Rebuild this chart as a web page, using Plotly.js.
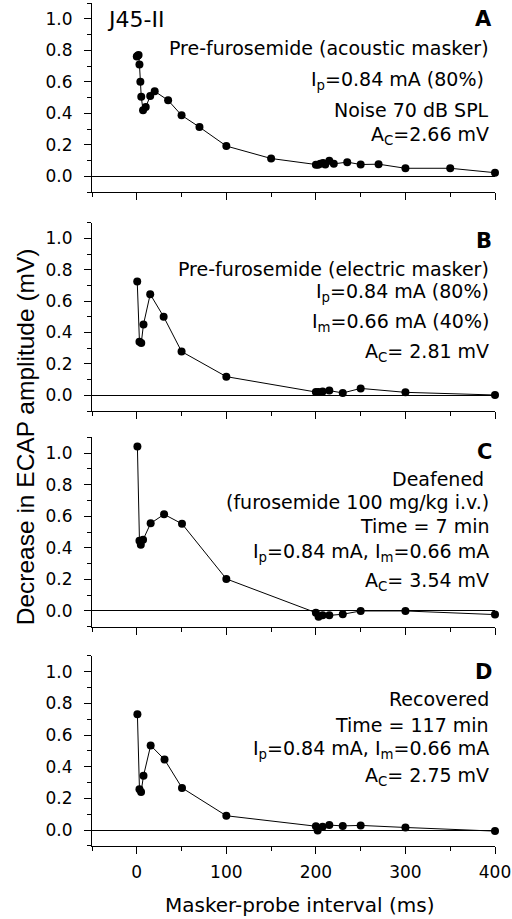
<!DOCTYPE html>
<html>
<head>
<meta charset="utf-8">
<script src="https://cdn.plot.ly/plotly-3.0.1.min.js"></script>
<style>html,body{margin:0;padding:0;background:#fff;}#chart{width:512px;height:919px;}</style>
</head>
<body>
<div id="chart"></div>
<script>
// Panel A: pre-furosemide, acoustic masker
const xA = [0, 1, 2, 3, 4, 5, 7, 10, 15, 20, 35, 50, 70, 100, 150, 200, 202.5, 205, 208, 210.5, 215, 220, 235, 250, 270, 300, 350, 400];
const yA = [0.76, 0.765, 0.77, 0.71, 0.60, 0.505, 0.42, 0.44, 0.51, 0.54, 0.483, 0.388, 0.313, 0.193, 0.114, 0.074, 0.074, 0.08, 0.085, 0.076, 0.099, 0.08, 0.091, 0.076, 0.078, 0.052, 0.052, 0.024];
// Panel B: pre-furosemide, electric masker
const xB = [0.5, 3, 5, 7.5, 15, 30, 50, 100, 200, 203, 207.5, 215, 230, 250, 300, 400];
const yB = [0.725, 0.341, 0.333, 0.452, 0.644, 0.501, 0.279, 0.119, 0.021, 0.021, 0.025, 0.03, 0.015, 0.044, 0.019, 0.002];
// Panel C: deafened
const xC = [0.7, 3, 4.5, 7, 15.5, 30.5, 50.5, 100, 200, 203, 207.5, 215, 230, 250, 300, 400];
const yC = [1.042, 0.445, 0.42, 0.451, 0.555, 0.612, 0.552, 0.203, -0.011, -0.036, -0.028, -0.028, -0.021, 0.0, 0.0, -0.023];
// Panel D: recovered
const xD = [0.7, 3, 4.8, 7.5, 15.5, 31, 50.5, 100, 200, 202, 207.5, 215, 230, 250, 300, 400];
const yD = [0.732, 0.259, 0.241, 0.343, 0.535, 0.446, 0.267, 0.091, 0.025, -0.002, 0.021, 0.032, 0.027, 0.03, 0.017, -0.006];

const xTickVals = [0, 100, 200, 300, 400];
const xTickText = ['0', '100', '200', '300', '400'];
const yTickVals = [0, 0.2, 0.4, 0.6, 0.8, 1.0];
const yTickText = ['0.0', '0.2', '0.4', '0.6', '0.8', '1.0'];

const FONT = 'DejaVu Sans, sans-serif';
const FONT_NARROW = 'Liberation Sans, Arial, sans-serif';
const series = [[xA, yA], [xB, yB], [xC, yC], [xD, yD]];
const traces = series.map((s, i) => ({
  x: s[0], y: s[1],
  xaxis: i === 0 ? 'x' : 'x' + (i + 1),
  yaxis: i === 0 ? 'y' : 'y' + (i + 1),
  type: 'scatter', mode: 'lines+markers',
  line: {color: '#000', width: 1},
  marker: {color: '#000', size: 8},
  cliponaxis: false,
  showlegend: false
}));

const domains = [[0.7755, 1.0], [0.516, 0.7394], [0.2601, 0.4848], [0, 0.2254]];
const layout = {
  width: 512, height: 919,
  margin: {l: 92, r: 17, t: 3, b: 73},
  paper_bgcolor: '#fff', plot_bgcolor: '#fff',
  font: {family: FONT, size: 17, color: '#000'},
  showlegend: false,
  annotations: []
};
for (let i = 0; i < 4; i++) {
  const xs = i === 0 ? '' : String(i + 1);
  layout['xaxis' + xs] = {
    domain: [0, 1], anchor: 'y' + xs, range: [-50, 400],
    showline: true, linecolor: '#000', linewidth: 1, mirror: false,
    showgrid: false, zeroline: false,
    ticks: 'outside', ticklen: 7, tickwidth: 1, tickcolor: '#000',
    tickvals: xTickVals, ticktext: xTickText,
    showticklabels: i === 3, ticklabelstandoff: 4,
    minor: {tickvals: [-50, 50, 150, 250, 350], ticks: 'outside', ticklen: 4, tickcolor: '#000', tickwidth: 1},
    tickfont: {size: 17, family: FONT}
  };
  layout['yaxis' + xs] = {
    domain: domains[i], anchor: 'x' + xs, range: [-0.1, 1.1],
    showline: true, linecolor: '#000', linewidth: 1,
    showgrid: false, zeroline: true, zerolinecolor: '#000', zerolinewidth: 1,
    ticks: 'outside', ticklen: 7, tickwidth: 1, tickcolor: '#000',
    tickvals: yTickVals, ticktext: yTickText, ticklabelstandoff: 8,
    minor: {tickvals: [-0.1, 0.1, 0.3, 0.5, 0.7, 0.9, 1.1], ticks: 'outside', ticklen: 4, tickcolor: '#000', tickwidth: 1},
    tickfont: {size: 17, family: FONT}
  };
}

const TS = 19;
function ann(panel, x, y, text, opts) {
  const xs = panel === 0 ? '' : String(panel + 1);
  return Object.assign({
    xref: 'x' + xs, yref: 'y' + xs, x: x, y: y, text: text,
    showarrow: false, xanchor: 'right', yanchor: 'middle',
    font: {family: FONT, size: TS, color: '#000'}
  }, opts || {});
}
const BIG = {family: FONT, size: 21, color: '#000'};
const A = layout.annotations;
A.push(ann(0, -36, 0.997, 'J45-II', {xanchor: 'left', font: {family: FONT, size: 22, color: '#000'}}));
A.push(ann(0, 399, 0.997, '<b>A</b>', {font: BIG}));
A.push(ann(0, 396, 0.813, 'Pre-furosemide (acoustic masker)'));
A.push(ann(0, 390, 0.61, 'I<sub>p</sub>=0.84 mA (80%)'));
A.push(ann(0, 396, 0.419, 'Noise 70 dB SPL'));
A.push(ann(0, 396, 0.26, 'A<sub>C</sub>=2.66 mV'));

A.push(ann(1, 399, 0.983, '<b>B</b>', {font: BIG}));
A.push(ann(1, 396, 0.805, 'Pre-furosemide (electric masker)'));
A.push(ann(1, 396, 0.654, 'I<sub>p</sub>=0.84 mA (80%)'));
A.push(ann(1, 396, 0.464, 'I<sub>m</sub>=0.66 mA (40%)'));
A.push(ann(1, 396, 0.273, 'A<sub>C</sub>= 2.81 mV'));

A.push(ann(2, 399, 1.006, '<b>C</b>', {font: BIG}));
A.push(ann(2, 390, 0.833, 'Deafened'));
A.push(ann(2, 396, 0.688, '(furosemide 100 mg/kg i.v.)'));
A.push(ann(2, 396, 0.536, 'Time = 7 min'));
A.push(ann(2, 396, 0.369, 'I<sub>p</sub>=0.84 mA, I<sub>m</sub>=0.66 mA'));
A.push(ann(2, 396, 0.186, 'A<sub>C</sub>= 3.54 mV'));

A.push(ann(3, 399, 0.997, '<b>D</b>', {font: BIG}));
A.push(ann(3, 396, 0.829, 'Recovered'));
A.push(ann(3, 396, 0.666, 'Time = 117 min'));
A.push(ann(3, 396, 0.507, 'I<sub>p</sub>=0.84 mA, I<sub>m</sub>=0.66 mA'));
A.push(ann(3, 396, 0.338, 'A<sub>C</sub>= 2.75 mV'));

A.push({xref: 'paper', yref: 'paper', x: -0.166, y: 0.485, textangle: -90,
  text: 'Decrease in ECAP amplitude (mV)', showarrow: false,
  xanchor: 'center', yanchor: 'middle', font: {family: FONT_NARROW, size: 24.5, color: '#000'}});
A.push({xref: 'paper', yref: 'paper', x: 0.516, y: -0.07,
  text: 'Masker-probe interval (ms)', showarrow: false,
  xanchor: 'center', yanchor: 'middle', font: {family: FONT, size: 20, color: '#000'}});

Plotly.newPlot('chart', traces, layout, {displayModeBar: false});
</script>
</body>
</html>
